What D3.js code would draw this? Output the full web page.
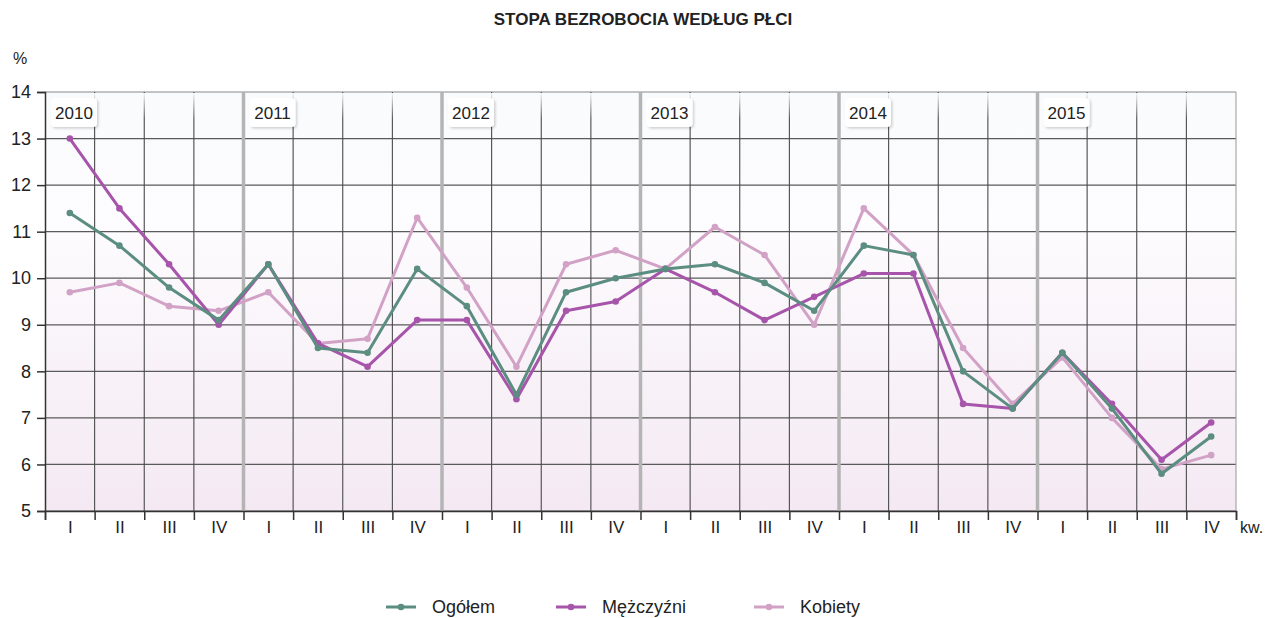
<!DOCTYPE html>
<html><head><meta charset="utf-8">
<script src="https://cdn.jsdelivr.net/npm/d3@7"></script>
<style>
body{margin:0;background:#fff;}
svg text{font-family:"Liberation Sans",Arial,sans-serif;fill:#222;}
</style></head><body>
<svg id="c" width="1265" height="618"></svg>
<script>
const title = "STOPA BEZROBOCIA WEDŁUG PŁCI";
const years = ["2010","2011","2012","2013","2014","2015"];
const quarters = ["I","II","III","IV"];
const yTicks = [5,6,7,8,9,10,11,12,13,14];
const seriesNames = ["Ogółem","Mężczyźni","Kobiety"];
const seriesColors = ["#5b8d80","#a655aa","#d2a2c6"];
const ogolem    = [11.4,10.7,9.8,9.1, 10.3,8.5,8.4,10.2, 9.4,7.5,9.7,10.0, 10.2,10.3,9.9,9.3, 10.7,10.5,8.0,7.2, 8.4,7.2,5.8,6.6];
const mezczyzni = [13.0,11.5,10.3,9.0, 10.3,8.6,8.1,9.1, 9.1,7.4,9.3,9.5, 10.2,9.7,9.1,9.6, 10.1,10.1,7.3,7.2, 8.4,7.3,6.1,6.9];
const kobiety   = [9.7,9.9,9.4,9.3, 9.7,8.6,8.7,11.3, 9.8,8.1,10.3,10.6, 10.2,11.1,10.5,9.0, 11.5,10.5,8.5,7.3, 8.3,7.0,5.9,6.2];
const seriesValues = [ogolem, mezczyzni, kobiety];

const categories = [];
years.forEach(y => quarters.forEach(q => categories.push(q)));
const n = categories.length;

const svg = d3.select("#c");
const L = 45, R = 1236, T = 92, B = 511;
const x = d3.scaleLinear().domain([0, n]).range([L, R]);
const y = d3.scaleLinear().domain([5, 14]).range([B, T]);

const defs = svg.append("defs");
const bg = defs.append("linearGradient").attr("id","bg").attr("x1",0).attr("y1",0).attr("x2",0).attr("y2",1);
bg.append("stop").attr("offset","0%").attr("stop-color","#f9fbfd");
bg.append("stop").attr("offset","30%").attr("stop-color","#fdfcfe");
bg.append("stop").attr("offset","100%").attr("stop-color","#f4e9f3");
const fade = defs.append("linearGradient").attr("id","fade").attr("x1",0).attr("y1",0).attr("x2",0).attr("y2",1);
fade.append("stop").attr("offset","0%").attr("stop-color","#fafbfd").attr("stop-opacity",0.95);
fade.append("stop").attr("offset","100%").attr("stop-color","#fafbfd").attr("stop-opacity",0);
const sh = defs.append("filter").attr("id","sh").attr("x","-20%").attr("y","-20%").attr("width","150%").attr("height","160%");
sh.append("feDropShadow").attr("dx",1.5).attr("dy",1.5).attr("stdDeviation",1.2).attr("flood-color","#000").attr("flood-opacity",0.18);

// title
svg.append("text").attr("x", 643).attr("y", 25).attr("text-anchor","middle")
  .style("font-weight","bold").style("font-size","17px")
  .text(title);

// background
svg.append("rect").attr("x",L).attr("y",T).attr("width",R-L).attr("height",B-T).attr("fill","url(#bg)");

// horizontal grid
svg.append("g").selectAll("line").data(yTicks).join("line")
  .attr("x1",L).attr("x2",R).attr("y1",d=>y(d)).attr("y2",d=>y(d))
  .attr("stroke",d=>d===14?"#8a8a8a":"#5a5a5a").attr("stroke-width",1.2);

// vertical thin grid
const bounds = d3.range(1, n+1).filter(i => i % 4 !== 0 || i === n);
svg.append("g").selectAll("line").data(bounds).join("line")
  .attr("x1",d=>x(d)).attr("x2",d=>x(d)).attr("y1",T).attr("y2",B)
  .attr("stroke",d=>d===n?"#a0a0a0":"#4a4a4a").attr("stroke-width",1.1);

// fade top band
svg.append("rect").attr("x",L+1).attr("y",T+1).attr("width",R-L-2).attr("height",26).attr("fill","url(#fade)");

// year separators
const seps = d3.range(4, n, 4);
svg.append("g").selectAll("line").data(seps).join("line")
  .attr("x1",d=>x(d)).attr("x2",d=>x(d)).attr("y1",T).attr("y2",B)
  .attr("stroke","#b4b4b4").attr("stroke-width",3.5);

// year labels
const yl = svg.append("g").selectAll("g").data(years).join("g")
  .attr("transform",(d,i)=>`translate(${x(i*4)+6},${T+6})`);
yl.append("rect").attr("width",46).attr("height",29).attr("rx",4).attr("fill","#fff").attr("filter","url(#sh)");
yl.append("text").attr("x",23).attr("y",21).attr("text-anchor","middle").style("font-size","17px").text(d=>d);

// y axis
const ya = svg.append("g").attr("transform",`translate(${L},0)`)
  .call(d3.axisLeft(y).tickValues(yTicks).tickSize(8).tickPadding(6).tickFormat(d3.format("d")));
ya.select(".domain").attr("stroke","#333").attr("stroke-width",1.5);
ya.selectAll(".tick line").attr("stroke","#333").attr("stroke-width",1.5);
ya.selectAll("text").style("font-size","18px").attr("fill","#222");
svg.append("text").attr("x",20).attr("y",64).attr("text-anchor","middle").style("font-size","16px").text("%");

// x axis ticks
const xa = svg.append("g").attr("transform",`translate(0,${B})`)
  .call(d3.axisBottom(x).tickValues(d3.range(0, n+1)).tickSize(9).tickFormat(""));
xa.select(".domain").attr("stroke","#333").attr("stroke-width",1.5);
xa.selectAll(".tick line").attr("stroke","#333").attr("stroke-width",1.5);
// x labels
const xl = svg.append("g").attr("transform",`translate(0,${B})`)
  .call(d3.axisBottom(x).tickValues(d3.range(n).map(i=>i+0.5)).tickSize(0).tickPadding(10)
    .tickFormat((d)=>categories[Math.floor(d)]));
xl.select(".domain").remove();
xl.selectAll("text").style("font-size","17px").attr("fill","#222");
svg.append("text").attr("x",1240).attr("y",533).style("font-size","16px").text("kw.");

// lines
const line = d3.line().x((d,i)=>x(i+0.5)).y(d=>y(d));
const order = [2,1,0];
order.forEach(k => {
  const g = svg.append("g");
  g.append("path").datum(seriesValues[k]).attr("d",line).attr("fill","none")
    .attr("stroke",seriesColors[k]).attr("stroke-width",3).attr("stroke-linejoin","round");
  g.selectAll("circle").data(seriesValues[k]).join("circle")
    .attr("cx",(d,i)=>x(i+0.5)).attr("cy",d=>y(d)).attr("r",3.3).attr("fill",seriesColors[k]);
});

// legend
const legX = [386, 556, 754];
const lg = svg.append("g").selectAll("g").data(seriesNames).join("g")
  .attr("transform",(d,i)=>`translate(${legX[i]},607)`);
lg.append("line").attr("x1",0).attr("x2",30).attr("stroke",(d,i)=>seriesColors[i]).attr("stroke-width",3);
lg.append("circle").attr("cx",15).attr("r",3.3).attr("fill",(d,i)=>seriesColors[i]);
lg.append("text").attr("x",46).attr("y",6).style("font-size","18px").text(d=>d);
</script>
</body></html>
